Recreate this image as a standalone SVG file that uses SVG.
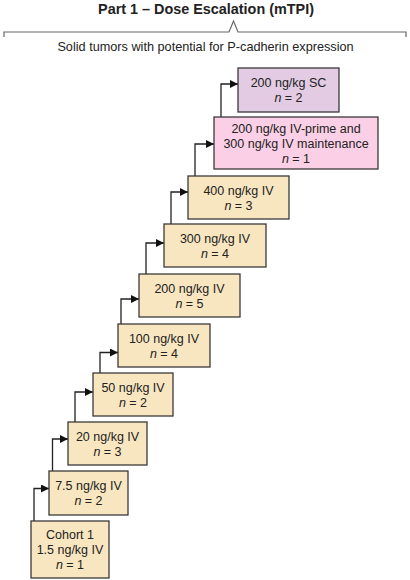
<svg xmlns="http://www.w3.org/2000/svg" width="410" height="580" viewBox="0 0 410 580">
<style>
  .box{stroke:#3a3a3a;stroke-width:1.3}
  .iv{fill:#f8e6c0}
  .pink{fill:#fbd0e6}
  .sc{fill:#e3cbe3}
  text{font-family:"Liberation Sans",Arial,sans-serif;fill:#222}
  .t{font-size:12.5px;text-anchor:middle}
  .n{font-style:italic}
  .conn{fill:none;stroke:#222;stroke-width:1.3}
  .hdr{fill:none;stroke:#666;stroke-width:1.2}
</style>
<defs>
  <marker id="ah" viewBox="0 0 10 10" refX="10" refY="5" markerWidth="8" markerHeight="8" markerUnits="userSpaceOnUse" orient="auto">
    <path d="M0,0 L10,5 L0,10 z" fill="#111"/>
  </marker>
</defs>
<rect width="410" height="580" fill="#fff"/>
<g id="header">
  <text x="206" y="14" style="font-size:14.4px;font-weight:bold;text-anchor:middle">Part 1 – Dose Escalation (mTPI)</text>
  <polyline class="hdr" points="4,37 4,32 229,32 233.5,21 238,32 406,32 406,37"/>
  <text x="205.5" y="51" style="font-size:12.7px;text-anchor:middle">Solid tumors with potential for P-cadherin expression</text>
</g>
<g id="connectors">
  <path class="conn" marker-end="url(#ah)" d="M34,521 V488.5 H49"/>
  <path class="conn" marker-end="url(#ah)" d="M52.5,471 V439 H68"/>
  <path class="conn" marker-end="url(#ah)" d="M75,422 V392 H93"/>
  <path class="conn" marker-end="url(#ah)" d="M100,373 V352.5 H118"/>
  <path class="conn" marker-end="url(#ah)" d="M121,324 V299 H139"/>
  <path class="conn" marker-end="url(#ah)" d="M146,274 V243 H164"/>
  <path class="conn" marker-end="url(#ah)" d="M171,224 V192 H188"/>
  <path class="conn" marker-end="url(#ah)" d="M195,176 V144 H214"/>
  <path class="conn" marker-end="url(#ah)" d="M221,117 V84 H238"/>
</g>
<g id="cohort1">
  <rect class="box iv" x="31" y="521" width="78" height="57"/>
  <text class="t" x="70" y="539">Cohort 1</text>
  <text class="t" x="70" y="554">1.5 ng/kg IV</text>
  <text class="t" x="70" y="569"><tspan class="n">n</tspan> = 1</text>
</g>
<g id="dose7_5">
  <rect class="box iv" x="49" y="471" width="79" height="44"/>
  <text class="t" x="88.5" y="490">7.5 ng/kg IV</text>
  <text class="t" x="88.5" y="504.5"><tspan class="n">n</tspan> = 2</text>
</g>
<g id="dose20">
  <rect class="box iv" x="68" y="422" width="79" height="43"/>
  <text class="t" x="107.5" y="441">20 ng/kg IV</text>
  <text class="t" x="107.5" y="455.5"><tspan class="n">n</tspan> = 3</text>
</g>
<g id="dose50">
  <rect class="box iv" x="93" y="373" width="80" height="43"/>
  <text class="t" x="133" y="392">50 ng/kg IV</text>
  <text class="t" x="133" y="406.5"><tspan class="n">n</tspan> = 2</text>
</g>
<g id="dose100">
  <rect class="box iv" x="118" y="324" width="92" height="43"/>
  <text class="t" x="164" y="343">100 ng/kg IV</text>
  <text class="t" x="164" y="357.5"><tspan class="n">n</tspan> = 4</text>
</g>
<g id="dose200">
  <rect class="box iv" x="139" y="274" width="101" height="43"/>
  <text class="t" x="189.5" y="293">200 ng/kg IV</text>
  <text class="t" x="189.5" y="307.5"><tspan class="n">n</tspan> = 5</text>
</g>
<g id="dose300">
  <rect class="box iv" x="164" y="224" width="102" height="43"/>
  <text class="t" x="215" y="243">300 ng/kg IV</text>
  <text class="t" x="215" y="257.5"><tspan class="n">n</tspan> = 4</text>
</g>
<g id="dose400">
  <rect class="box iv" x="188" y="176" width="101" height="43"/>
  <text class="t" x="238.5" y="195">400 ng/kg IV</text>
  <text class="t" x="238.5" y="209.5"><tspan class="n">n</tspan> = 3</text>
</g>
<g id="prime">
  <rect class="box pink" x="214" y="117" width="164" height="52"/>
  <text class="t" x="296" y="132.5">200 ng/kg IV-prime and</text>
  <text class="t" x="296" y="147.5">300 ng/kg IV maintenance</text>
  <text class="t" x="296" y="163"><tspan class="n">n</tspan> = 1</text>
</g>
<g id="sc">
  <rect class="box sc" x="238" y="68" width="101" height="44"/>
  <text class="t" x="288.5" y="87">200 ng/kg SC</text>
  <text class="t" x="288.5" y="101.5"><tspan class="n">n</tspan> = 2</text>
</g>
</svg>
